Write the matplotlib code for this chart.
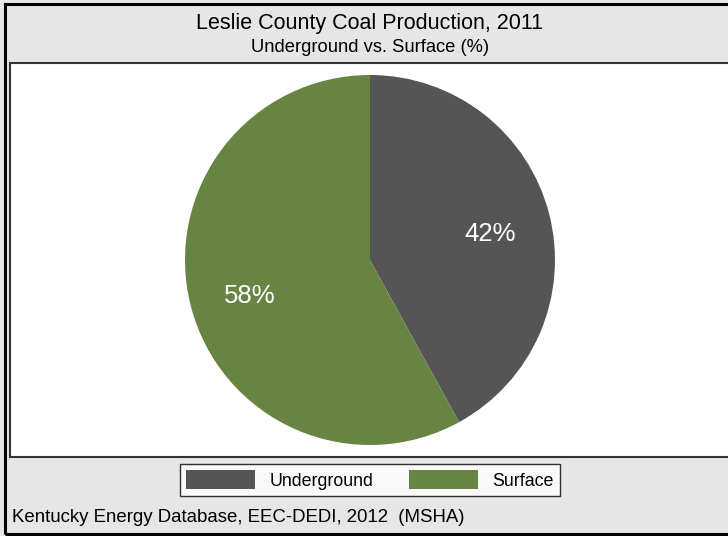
import matplotlib
matplotlib.use("Agg")
import matplotlib.pyplot as plt
from matplotlib.patches import Rectangle
from matplotlib.transforms import offset_copy

plt.rcParams['font.family'] = ['Liberation Sans', 'DejaVu Sans']

categories = ["Underground", "Surface"]
values = [42, 58]
colors = ["#555555", "#678443"]
title = "Leslie County Coal Production, 2011"
subtitle = "Underground vs. Surface (%)"
footer = "Kentucky Energy Database, EEC-DEDI, 2012  (MSHA)"

W, H = 728, 536
fig = plt.figure(figsize=(W / 100, H / 100), dpi=100)
fig.patch.set_facecolor("#e6e6e6")

def px(x, y):
    return x / W, 1 - y / H

# outer frame
fig.add_artist(Rectangle((5 / W, 1 - 534 / H), 740 / W, 530 / H, transform=fig.transFigure,
                         facecolor="none", edgecolor="black", linewidth=2.2, zorder=-2))
# plot region
fig.add_artist(Rectangle((10 / W, 1 - 457 / H), 740 / W, 394 / H, transform=fig.transFigure,
                         facecolor="white", edgecolor="#333333", linewidth=1.5, zorder=-1))

fig.text(*px(370, 23), title, ha="center", va="center", fontsize=15.5)
fig.text(*px(370, 48), subtitle, ha="center", va="center", fontsize=13.2)
fig.text(*px(12, 518), footer, ha="left", va="center", fontsize=13.4)

cx, cy, r = 370, 260, 185
ax = fig.add_axes([(cx - r) / W, 1 - (cy + r) / H, 2 * r / W, 2 * r / H])
ax.set_zorder(2)
ax.set_facecolor("none")
wedges, texts, autotexts = ax.pie(values, colors=colors, startangle=90, counterclock=False,
                                  radius=1, autopct=lambda p: f"{p:.0f}%", pctdistance=0.67,
                                  textprops=dict(color="white", fontsize=18.5),
                                  wedgeprops=dict(linewidth=0))
for t in autotexts:
    t.set_transform(offset_copy(t.get_transform(), fig=fig, x=0, y=-5, units="dots"))
ax.set_xlim(-1, 1)
ax.set_ylim(-1, 1)
ax.set_aspect("equal")
ax.axis("off")

leg = fig.legend(wedges, categories, loc="center", bbox_to_anchor=px(370, 480), ncol=2,
                 frameon=True, fancybox=False, edgecolor="black", facecolor="white",
                 fontsize=12.8, handlelength=3.9, handleheight=1.2, columnspacing=2.0,
                 handletextpad=0.8, borderpad=0.35)
leg.get_frame().set_linewidth(1.0)
leg.set_zorder(3)

fig.savefig("out.png", dpi=100, facecolor=fig.get_facecolor())
